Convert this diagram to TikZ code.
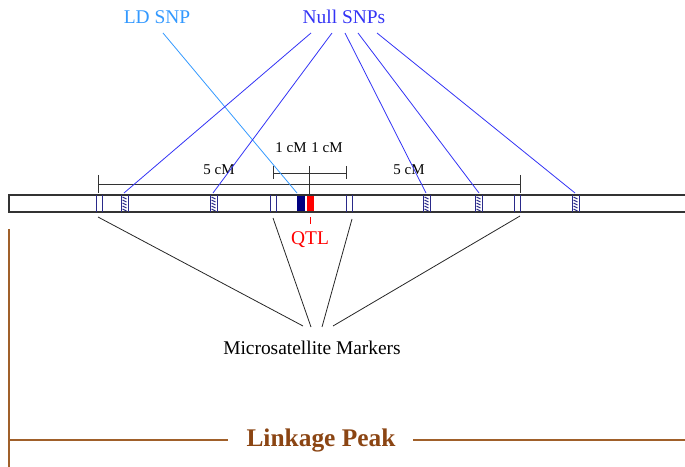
\documentclass[tikz,border=0pt]{standalone}
\usepackage{fontspec}
\setmainfont{Liberation Serif}
\definecolor{ldblue}{HTML}{3399FF}
\definecolor{nullblue}{HTML}{3333F5}
\definecolor{mnavy}{HTML}{2A2A8A}
\definecolor{boxnavy}{HTML}{000080}
\definecolor{brownline}{HTML}{A0602A}
\definecolor{browntext}{HTML}{8B4513}
\tikzset{
  lbl/.style={inner sep=0pt, font=\fontsize{19.5}{22}\selectfont},
  small/.style={inner sep=0pt, font=\fontsize{15}{17}\selectfont},
  msat/.style={draw=mnavy, line width=0.9bp},
  scalebar/.style={draw=black!80, line width=0.9bp},
  nulline/.style={draw=nullblue, line width=0.8bp},
  msline/.style={draw=black!85, line width=0.8bp},
  brown/.style={draw=brownline, line width=1.1bp}
}
\begin{document}
\begin{tikzpicture}[x=1bp,y=-1bp]
\useasboundingbox (0,0) rectangle (685,467);
\clip (0,0) rectangle (685,467);
% chromosome bar
\draw[draw=black!80, line width=1.2bp, fill=white] (9,195) rectangle (700,212);
% microsatellite markers
\foreach \a in {96,270,346,514}{
  \draw[msat] (\a,195) -- (\a,212);
  \draw[msat] (\a+6.5,195) -- (\a+6.5,212);
}
\coordinate (m1) at (98,217);
\coordinate (m2) at (273,218);
\coordinate (m3) at (352,219);
\coordinate (m4) at (520,216);
% hatched null SNPs
\foreach \a in {121,210,423,475,572}{
  \draw[msat] (\a,195) -- (\a,212);
  \draw[msat] (\a+7,195) -- (\a+7,212);
  \foreach \yy in {197,200,...,209}{
    \draw[draw=mnavy, line width=1bp] (\a+1.5,\yy) -- (\a+5.5,\yy+2);
  }
}
\coordinate (s1) at (124,193);
\coordinate (s2) at (213,193);
\coordinate (s3) at (426,193);
\coordinate (s4) at (479,193);
\coordinate (s5) at (575,193);
% LD SNP and QTL boxes
\fill[boxnavy] (297,195.6) rectangle (304.5,211.4);
\fill[red] (306.5,195.6) rectangle (313.5,211.4);
\coordinate (ld) at (297,193);
% big scale bar
\draw[scalebar] (98,175) -- (98,193);
\draw[scalebar] (520,175) -- (520,193);
\draw[scalebar] (98,184) -- (520,184);
\node[small] (fl) at (219,170) {5 cM};
\node[small] (fr) at (409,170) {5 cM};
% small scale bar
\draw[scalebar] (273,166) -- (273,179);
\draw[scalebar] (346,166) -- (346,179);
\draw[scalebar] (309,166) -- (309,195);
\draw[scalebar] (273,173) -- (346,173);
\node[small] (ol) at (291,148) {1 cM};
\node[small] (or) at (327,148) {1 cM};
% QTL
\draw[draw=red, line width=1bp] (310,217) -- (310,224);
\node[lbl, text=red] (qtl) at (310,240) {QTL};
% top labels
\node[lbl, text=ldblue] (ldsnp) at (157,17) {LD SNP};
\node[lbl, text=nullblue] (null) at (344,17) {Null SNPs};
\coordinate (ldst) at (163,33);
\draw[draw=ldblue, line width=0.8bp] (ldst) -- (ld);
\coordinate (n1) at (311,33);
\coordinate (n2) at (332,33);
\coordinate (n3) at (345,33);
\coordinate (n4) at (358,33);
\coordinate (n5) at (377,33);
\draw[nulline] (n1) -- (s1);
\draw[nulline] (n2) -- (s2);
\draw[nulline] (n3) -- (s3);
\draw[nulline] (n4) -- (s4);
\draw[nulline] (n5) -- (s5);
% microsatellite label
\node[lbl] (ms) at (312,348) {Microsatellite Markers};
\coordinate (e1) at (303,326);
\coordinate (e2) at (311,327);
\coordinate (e3) at (322,327);
\coordinate (e4) at (333,326);
\draw[msline] (m1) -- (e1);
\draw[msline] (m2) -- (e2);
\draw[msline] (m3) -- (e3);
\draw[msline] (m4) -- (e4);
% linkage peak
\node[inner sep=0pt, text=browntext, font=\fontsize{25.5}{28}\selectfont\bfseries] (lp) at (321,440) {Linkage Peak};
\coordinate (lt) at (9,229);
\coordinate (lb) at (9,470);
\coordinate (ll) at (9,440);
\coordinate (lr) at (690,440);
\draw[brown] (lt) -- (lb);
\draw[brown] (ll) -- (228,440);
\draw[brown] (413,440) -- (lr);
\end{tikzpicture}
\end{document}
